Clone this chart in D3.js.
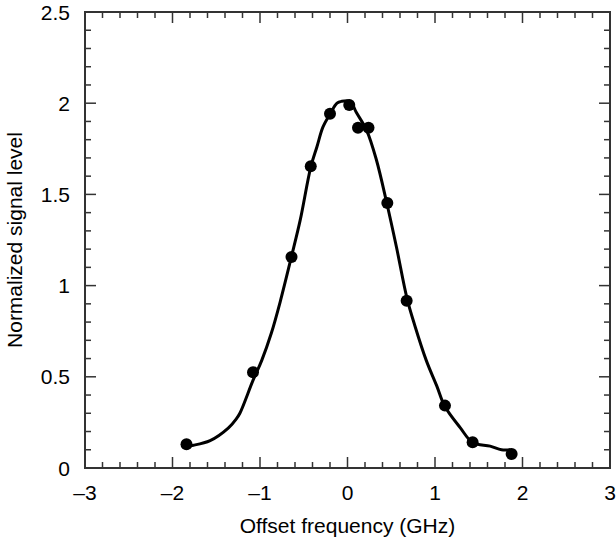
<!DOCTYPE html>
<html>
<head>
<meta charset="utf-8">
<script src="https://cdn.jsdelivr.net/npm/d3@7"></script>
<style>
  body { margin: 0; background: #fff; }
  text { font-family: "Liberation Sans", Arial, sans-serif; }
</style>
</head>
<body>
<svg id="chart" width="616" height="541"></svg>
<script>
// measured points
var pointX = [-1.84, -1.08, -0.64, -0.42, -0.20, 0.02, 0.12, 0.24, 0.455, 0.676, 1.114, 1.43, 1.876];
var pointY = [0.13, 0.525, 1.157, 1.654, 1.942, 1.99, 1.866, 1.866, 1.453, 0.917, 0.342, 0.141, 0.077];

// fitted curve
var curveX = [-1.84, -1.76, -1.57, -1.36, -1.27, -1.23, -1.08, -0.98, -0.87, -0.77, -0.64, -0.54, -0.42, -0.35, -0.28, -0.20, -0.12, -0.07, 0.03, 0.10, 0.22, 0.33, 0.45, 0.56, 0.68, 0.77, 0.90, 1.02, 1.11, 1.29, 1.43, 1.63, 1.76, 1.86];
var curveY = [0.12, 0.125, 0.15, 0.22, 0.27, 0.30, 0.48, 0.59, 0.74, 0.91, 1.16, 1.36, 1.65, 1.76, 1.87, 1.94, 2.00, 2.01, 2.01, 1.95, 1.85, 1.69, 1.45, 1.21, 0.93, 0.78, 0.59, 0.45, 0.34, 0.22, 0.14, 0.12, 0.10, 0.10];

var xTicks = [-3, -2, -1, 0, 1, 2, 3];
var yTicks = [0, 0.5, 1, 1.5, 2, 2.5];

var svg = d3.select("#chart");
var plotL = 85, plotR = 610, plotT = 12, plotB = 468;

var x = d3.scaleLinear().domain([-3, 3]).range([plotL, plotR]);
var y = d3.scaleLinear().domain([0, 2.5]).range([plotB, plotT]);

var axisColor = "#333";
var fontSize = 21;
var fmt = function(d) { return (d < 0 ? "\u2013" + Math.abs(d) : String(d)); };

// minor ticks
var xMinor = d3.range(-3, 3.001, 0.2).filter(function(v) { return Math.abs(v - Math.round(v)) > 1e-6; });
var yMinor = d3.range(0, 2.501, 0.1).filter(function(v) { return Math.abs(v * 2 - Math.round(v * 2)) > 1e-6; });

var ticks = svg.append("g").attr("stroke", axisColor).attr("stroke-width", 1.5);
function tickSetX(vals, len) {
  vals.forEach(function(v) {
    ticks.append("line").attr("x1", x(v)).attr("x2", x(v)).attr("y1", plotB).attr("y2", plotB - len);
    ticks.append("line").attr("x1", x(v)).attr("x2", x(v)).attr("y1", plotT).attr("y2", plotT + len);
  });
}
function tickSetY(vals, len) {
  vals.forEach(function(v) {
    ticks.append("line").attr("x1", plotL).attr("x2", plotL + len).attr("y1", y(v)).attr("y2", y(v));
    ticks.append("line").attr("x1", plotR).attr("x2", plotR - len).attr("y1", y(v)).attr("y2", y(v));
  });
}
tickSetX(xMinor, 6);
tickSetX(xTicks, 11);
tickSetY(yMinor, 6);
tickSetY(yTicks, 11);

// frame
svg.append("rect")
  .attr("x", plotL).attr("y", plotT)
  .attr("width", plotR - plotL).attr("height", plotB - plotT)
  .attr("fill", "none").attr("stroke", axisColor).attr("stroke-width", 2);

// tick labels
svg.append("g").selectAll("text").data(xTicks).join("text")
  .attr("x", function(d) { return x(d); })
  .attr("y", 500)
  .attr("text-anchor", "middle")
  .attr("font-size", fontSize)
  .text(fmt);

svg.append("g").selectAll("text").data(yTicks).join("text")
  .attr("x", 70)
  .attr("y", function(d) { return y(d) + 7.5; })
  .attr("text-anchor", "end")
  .attr("font-size", fontSize)
  .text(fmt);

// axis titles
svg.append("text")
  .attr("x", (plotL + plotR) / 2).attr("y", 533)
  .attr("text-anchor", "middle")
  .attr("font-size", fontSize)
  .text("Offset frequency (GHz)");

svg.append("text")
  .attr("transform", "translate(22," + ((plotT + plotB) / 2) + ") rotate(-90)")
  .attr("text-anchor", "middle")
  .attr("font-size", fontSize)
  .text("Normalized signal level");

// curve
var line = d3.line()
  .x(function(d) { return x(d[0]); })
  .y(function(d) { return y(d[1]); })
  .curve(d3.curveCatmullRom.alpha(0.5));

svg.append("path")
  .datum(d3.zip(curveX, curveY))
  .attr("d", line)
  .attr("fill", "none")
  .attr("stroke", "#000")
  .attr("stroke-width", 3);

// points
svg.append("g").selectAll("circle").data(d3.zip(pointX, pointY)).join("circle")
  .attr("cx", function(d) { return x(d[0]); })
  .attr("cy", function(d) { return y(d[1]); })
  .attr("r", 6)
  .attr("fill", "#000");
</script>
</body>
</html>
